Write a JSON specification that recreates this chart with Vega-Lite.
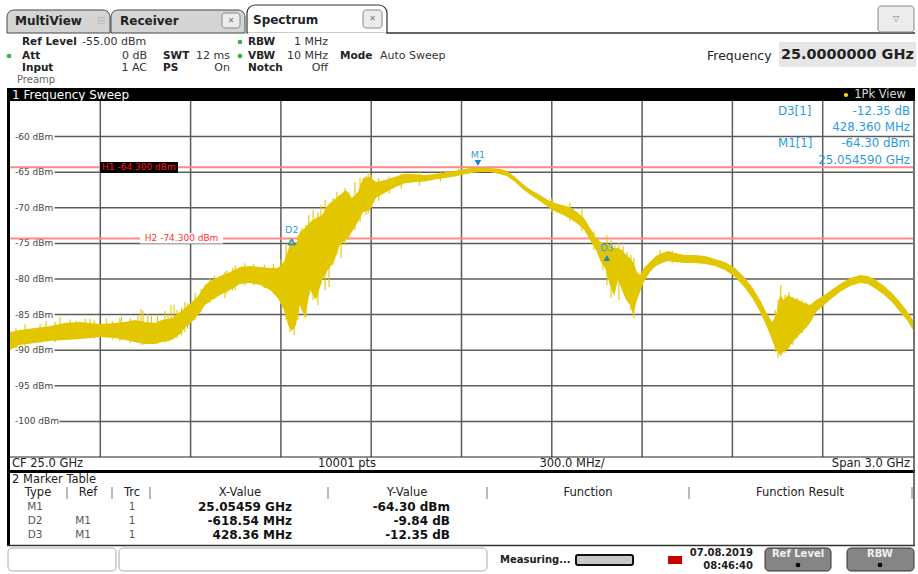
{
  "$schema": "https://vega.github.io/schema/vega-lite/v6.json",
  "width": 903,
  "height": 356,
  "autosize": {"type": "none"},
  "padding": {"left": 10, "top": 101, "right": 5, "bottom": 117},
  "background": "#ffffff",
  "config": {"view": {"stroke": null}, "font": "DejaVu Sans", "text": {"baseline": "middle"}},
  "resolve": {"scale": {"x": "independent", "y": "independent"}},
  "layer": [
    {
      "layer": [
        {
          "data": {"values": [{"f": 23.8}, {"f": 24.1}, {"f": 24.4}, {"f": 24.7}, {"f": 25.0}, {"f": 25.3}, {"f": 25.6}, {"f": 25.9}, {"f": 26.2}]},
          "mark": {"type": "rule", "color": "#5c5c5c", "strokeWidth": 1.5},
          "encoding": {
            "x": {"field": "f", "type": "quantitative", "scale": {"domain": [23.5, 26.5], "nice": false, "zero": false}, "axis": null}
          }
        },
        {
          "data": {"values": [{"db": -60}, {"db": -65}, {"db": -70}, {"db": -75}, {"db": -80}, {"db": -85}, {"db": -90}, {"db": -95}]},
          "mark": {"type": "rule", "color": "#5c5c5c", "strokeWidth": 1.5},
          "encoding": {
            "y": {"field": "db", "type": "quantitative", "scale": {"domain": [-105, -55], "nice": false, "zero": false}, "axis": null},
            "x": {"datum": 23.648, "type": "quantitative", "scale": {"domain": [23.5, 26.5], "nice": false, "zero": false}, "axis": null},
            "x2": {"datum": 26.5}
          }
        },
        {
          "data": {"values": [{"db": -100}]},
          "mark": {"type": "rule", "color": "#5c5c5c", "strokeWidth": 1.5},
          "encoding": {
            "y": {"field": "db", "type": "quantitative", "scale": {"domain": [-105, -55], "nice": false, "zero": false}, "axis": null},
            "x": {"datum": 23.664, "type": "quantitative", "scale": {"domain": [23.5, 26.5], "nice": false, "zero": false}, "axis": null},
            "x2": {"datum": 26.5}
          }
        },
        {
          "data": {"values": [{"db": -60, "lab": "-60 dBm"}, {"db": -65, "lab": "-65 dBm"}, {"db": -70, "lab": "-70 dBm"}, {"db": -75, "lab": "-75 dBm"}, {"db": -80, "lab": "-80 dBm"}, {"db": -85, "lab": "-85 dBm"}, {"db": -90, "lab": "-90 dBm"}, {"db": -95, "lab": "-95 dBm"}, {"db": -100, "lab": "-100 dBm"}]},
          "mark": {"type": "text", "align": "left", "baseline": "middle", "fontSize": 9, "color": "#444444"},
          "encoding": {
            "y": {"field": "db", "type": "quantitative", "scale": {"domain": [-105, -55], "nice": false, "zero": false}, "axis": null},
            "x": {"datum": 23.5166, "type": "quantitative", "scale": {"domain": [23.5, 26.5], "nice": false, "zero": false}, "axis": null},
            "text": {"field": "lab"}
          }
        },
        {
          "data": {"values": [{"db": -64.3}, {"db": -74.3}]},
          "mark": {"type": "rule", "color": "#ff8a8a", "strokeWidth": 2},
          "encoding": {
            "y": {"field": "db", "type": "quantitative", "scale": {"domain": [-105, -55], "nice": false, "zero": false}, "axis": null}
          }
        },
        {
          "data": {"values": [{}]},
          "mark": {"type": "rect", "color": "#000000"},
          "encoding": {
            "x": {"datum": 23.799, "type": "quantitative", "scale": {"domain": [23.5, 26.5], "nice": false, "zero": false}, "axis": null},
            "x2": {"datum": 24.058},
            "y": {"datum": -63.57, "type": "quantitative", "scale": {"domain": [-105, -55], "nice": false, "zero": false}, "axis": null},
            "y2": {"datum": -65.11}
          }
        },
        {
          "data": {"values": [{}]},
          "mark": {"type": "rect", "color": "#ffffff"},
          "encoding": {
            "x": {"datum": 23.932, "type": "quantitative", "scale": {"domain": [23.5, 26.5], "nice": false, "zero": false}, "axis": null},
            "x2": {"datum": 24.208},
            "y": {"datum": -73.54, "type": "quantitative", "scale": {"domain": [-105, -55], "nice": false, "zero": false}, "axis": null},
            "y2": {"datum": -75.0}
          }
        },
        {
          "data": {"values": [{"t": "H1 -64.300 dBm", "f": 23.806, "db": -64.3}]},
          "mark": {"type": "text", "align": "left", "baseline": "middle", "fontSize": 9, "color": "#ff1a1a"},
          "encoding": {
            "x": {"field": "f", "type": "quantitative", "scale": {"domain": [23.5, 26.5], "nice": false, "zero": false}, "axis": null},
            "y": {"field": "db", "type": "quantitative", "scale": {"domain": [-105, -55], "nice": false, "zero": false}, "axis": null},
            "text": {"field": "t"}
          }
        },
        {
          "data": {"values": [{"t": "H2 -74.300 dBm", "f": 24.07, "db": -74.3}]},
          "mark": {"type": "text", "align": "center", "baseline": "middle", "fontSize": 9, "color": "#ff3030"},
          "encoding": {
            "x": {"field": "f", "type": "quantitative", "scale": {"domain": [23.5, 26.5], "nice": false, "zero": false}, "axis": null},
            "y": {"field": "db", "type": "quantitative", "scale": {"domain": [-105, -55], "nice": false, "zero": false}, "axis": null},
            "text": {"field": "t"}
          }
        },
        {
          "data": {"values": [
            {"f": 23.500, "hi": -87.44, "lo": -89.97}, {"f": 23.533, "hi": -87.16, "lo": -89.27}, {"f": 23.583, "hi": -86.88, "lo": -88.99},
            {"f": 23.633, "hi": -86.60, "lo": -88.71}, {"f": 23.683, "hi": -86.18, "lo": -88.57}, {"f": 23.733, "hi": -86.04, "lo": -88.43},
            {"f": 23.799, "hi": -86.32, "lo": -88.15}, {"f": 23.849, "hi": -86.18, "lo": -88.29}, {"f": 23.882, "hi": -86.04, "lo": -88.57},
            {"f": 23.915, "hi": -85.76, "lo": -88.85}, {"f": 23.949, "hi": -86.04, "lo": -89.13}, {"f": 23.982, "hi": -86.18, "lo": -89.13},
            {"f": 24.005, "hi": -85.76, "lo": -88.85}, {"f": 24.038, "hi": -85.48, "lo": -88.57}, {"f": 24.065, "hi": -84.63, "lo": -87.72},
            {"f": 24.081, "hi": -84.07, "lo": -86.88}, {"f": 24.101, "hi": -83.37, "lo": -86.18}, {"f": 24.125, "hi": -82.39, "lo": -85.06},
            {"f": 24.148, "hi": -80.84, "lo": -83.65}, {"f": 24.171, "hi": -80.14, "lo": -82.95}, {"f": 24.198, "hi": -79.58, "lo": -82.25},
            {"f": 24.231, "hi": -79.02, "lo": -81.54}, {"f": 24.264, "hi": -78.31, "lo": -80.70}, {"f": 24.297, "hi": -78.17, "lo": -80.56},
            {"f": 24.331, "hi": -78.31, "lo": -80.84}, {"f": 24.364, "hi": -78.46, "lo": -81.54}, {"f": 24.390, "hi": -78.46, "lo": -82.67},
            {"f": 24.410, "hi": -77.61, "lo": -84.35}, {"f": 24.424, "hi": -75.93, "lo": -86.46}, {"f": 24.437, "hi": -74.52, "lo": -87.30},
            {"f": 24.450, "hi": -75.22, "lo": -86.46}, {"f": 24.463, "hi": -73.40, "lo": -83.65}, {"f": 24.480, "hi": -72.84, "lo": -85.48},
            {"f": 24.497, "hi": -71.99, "lo": -81.54}, {"f": 24.517, "hi": -71.43, "lo": -82.95}, {"f": 24.537, "hi": -71.01, "lo": -80.14},
            {"f": 24.556, "hi": -69.61, "lo": -78.74}, {"f": 24.576, "hi": -68.90, "lo": -77.61}, {"f": 24.596, "hi": -68.20, "lo": -75.22},
            {"f": 24.616, "hi": -67.50, "lo": -74.52}, {"f": 24.636, "hi": -68.62, "lo": -73.40}, {"f": 24.656, "hi": -67.78, "lo": -71.99},
            {"f": 24.673, "hi": -65.81, "lo": -70.59}, {"f": 24.696, "hi": -65.67, "lo": -70.31}, {"f": 24.716, "hi": -66.38, "lo": -68.60},
            {"f": 24.746, "hi": -66.10, "lo": -67.90}, {"f": 24.779, "hi": -65.63, "lo": -67.10}, {"f": 24.812, "hi": -65.21, "lo": -66.54},
            {"f": 24.846, "hi": -65.30, "lo": -66.36}, {"f": 24.879, "hi": -65.39, "lo": -66.32}, {"f": 24.912, "hi": -65.25, "lo": -66.04},
            {"f": 24.945, "hi": -65.00, "lo": -65.80}, {"f": 24.978, "hi": -64.83, "lo": -65.60}, {"f": 25.012, "hi": -64.55, "lo": -65.25},
            {"f": 25.035, "hi": -64.41, "lo": -65.11}, {"f": 25.061, "hi": -64.34, "lo": -64.97}, {"f": 25.095, "hi": -64.41, "lo": -64.97},
            {"f": 25.128, "hi": -64.55, "lo": -65.30}, {"f": 25.151, "hi": -64.83, "lo": -65.53}, {"f": 25.178, "hi": -65.67, "lo": -66.38},
            {"f": 25.204, "hi": -66.66, "lo": -67.40}, {"f": 25.231, "hi": -67.50, "lo": -68.24}, {"f": 25.261, "hi": -68.20, "lo": -69.09},
            {"f": 25.287, "hi": -68.90, "lo": -69.90}, {"f": 25.311, "hi": -69.33, "lo": -70.53}, {"f": 25.334, "hi": -69.61, "lo": -70.95},
            {"f": 25.360, "hi": -69.89, "lo": -71.51}, {"f": 25.384, "hi": -70.59, "lo": -72.22}, {"f": 25.407, "hi": -71.43, "lo": -73.06},
            {"f": 25.427, "hi": -72.84, "lo": -74.52}, {"f": 25.447, "hi": -74.24, "lo": -75.93}, {"f": 25.463, "hi": -74.80, "lo": -77.61},
            {"f": 25.477, "hi": -75.22, "lo": -78.46}, {"f": 25.493, "hi": -75.22, "lo": -80.84}, {"f": 25.507, "hi": -75.65, "lo": -82.39},
            {"f": 25.520, "hi": -75.65, "lo": -80.14}, {"f": 25.533, "hi": -75.93, "lo": -81.54}, {"f": 25.547, "hi": -76.63, "lo": -82.95},
            {"f": 25.560, "hi": -77.05, "lo": -83.65}, {"f": 25.570, "hi": -77.61, "lo": -85.06}, {"f": 25.583, "hi": -79.02, "lo": -82.95},
            {"f": 25.593, "hi": -79.44, "lo": -81.83}, {"f": 25.606, "hi": -78.46, "lo": -80.42}, {"f": 25.626, "hi": -77.61, "lo": -79.02},
            {"f": 25.646, "hi": -76.77, "lo": -78.17}, {"f": 25.666, "hi": -76.35, "lo": -77.75}, {"f": 25.686, "hi": -76.07, "lo": -77.47},
            {"f": 25.709, "hi": -76.35, "lo": -77.61}, {"f": 25.743, "hi": -76.63, "lo": -77.75}, {"f": 25.776, "hi": -76.63, "lo": -77.75},
            {"f": 25.809, "hi": -76.77, "lo": -77.89}, {"f": 25.842, "hi": -77.19, "lo": -78.17}, {"f": 25.875, "hi": -77.61, "lo": -78.74},
            {"f": 25.909, "hi": -78.46, "lo": -79.72}, {"f": 25.942, "hi": -79.86, "lo": -81.26}, {"f": 25.968, "hi": -81.26, "lo": -82.81},
            {"f": 25.992, "hi": -82.95, "lo": -84.63}, {"f": 26.012, "hi": -84.63, "lo": -86.46}, {"f": 26.032, "hi": -86.04, "lo": -88.57},
            {"f": 26.045, "hi": -85.06, "lo": -89.97}, {"f": 26.058, "hi": -82.25, "lo": -90.67}, {"f": 26.071, "hi": -82.95, "lo": -90.25},
            {"f": 26.085, "hi": -82.25, "lo": -89.69}, {"f": 26.101, "hi": -82.67, "lo": -88.85}, {"f": 26.118, "hi": -82.95, "lo": -88.01},
            {"f": 26.138, "hi": -83.37, "lo": -87.16}, {"f": 26.158, "hi": -83.65, "lo": -86.18}, {"f": 26.178, "hi": -82.95, "lo": -84.63},
            {"f": 26.201, "hi": -82.39, "lo": -83.79}, {"f": 26.224, "hi": -81.69, "lo": -82.95}, {"f": 26.257, "hi": -80.70, "lo": -81.83},
            {"f": 26.291, "hi": -79.86, "lo": -80.98}, {"f": 26.324, "hi": -79.44, "lo": -80.56}, {"f": 26.350, "hi": -79.58, "lo": -80.70},
            {"f": 26.377, "hi": -80.14, "lo": -81.40}, {"f": 26.404, "hi": -80.98, "lo": -82.25}, {"f": 26.430, "hi": -81.97, "lo": -83.23},
            {"f": 26.457, "hi": -83.23, "lo": -84.63}, {"f": 26.480, "hi": -84.49, "lo": -85.76}, {"f": 26.500, "hi": -85.76, "lo": -87.16}
          ]},
          "mark": {"type": "area", "color": "#e2c700", "opacity": 1},
          "encoding": {
            "x": {"field": "f", "type": "quantitative", "scale": {"domain": [23.5, 26.5], "nice": false, "zero": false}, "axis": null},
            "y": {"field": "hi", "type": "quantitative", "scale": {"domain": [-105, -55], "nice": false, "zero": false}, "axis": null},
            "y2": {"field": "lo"}
          }
        },
        {
          "data": {"values": [
            {"f": 23.52, "hi": -86.9, "lo": -89.8}, {"f": 23.55, "hi": -86.4, "lo": -89.4}, {"f": 23.60, "hi": -86.3, "lo": -89.0},
            {"f": 23.62, "hi": -85.9, "lo": -88.6}, {"f": 23.65, "hi": -86.0, "lo": -88.9}, {"f": 23.666, "hi": -85.34, "lo": -88.57},
            {"f": 23.70, "hi": -85.7, "lo": -88.5}, {"f": 23.72, "hi": -85.9, "lo": -88.3}, {"f": 23.75, "hi": -85.6, "lo": -88.2},
            {"f": 23.766, "hi": -85.62, "lo": -88.29}, {"f": 23.78, "hi": -85.8, "lo": -88.4}, {"f": 23.82, "hi": -85.5, "lo": -88.0},
            {"f": 23.84, "hi": -85.9, "lo": -88.5}, {"f": 23.865, "hi": -85.48, "lo": -88.71}, {"f": 23.87, "hi": -85.3, "lo": -88.6},
            {"f": 23.90, "hi": -85.5, "lo": -89.0}, {"f": 23.925, "hi": -85.06, "lo": -88.99}, {"f": 23.935, "hi": -84.2, "lo": -89.2},
            {"f": 23.942, "hi": -84.49, "lo": -89.27}, {"f": 23.958, "hi": -84.92, "lo": -88.71}, {"f": 23.97, "hi": -85.2, "lo": -89.0},
            {"f": 23.99, "hi": -85.0, "lo": -89.1}, {"f": 24.015, "hi": -84.49, "lo": -88.99}, {"f": 24.025, "hi": -84.8, "lo": -88.8},
            {"f": 24.035, "hi": -83.65, "lo": -88.57}, {"f": 24.045, "hi": -83.6, "lo": -88.3}, {"f": 24.055, "hi": -84.35, "lo": -88.29},
            {"f": 24.07, "hi": -84.0, "lo": -87.9}, {"f": 24.081, "hi": -83.23, "lo": -87.44}, {"f": 24.09, "hi": -83.4, "lo": -87.0},
            {"f": 24.115, "hi": -81.97, "lo": -85.76}, {"f": 24.135, "hi": -81.4, "lo": -84.7}, {"f": 24.164, "hi": -79.86, "lo": -83.37},
            {"f": 24.18, "hi": -79.5, "lo": -82.8}, {"f": 24.214, "hi": -79.02, "lo": -82.67}, {"f": 24.22, "hi": -78.8, "lo": -82.0},
            {"f": 24.24, "hi": -78.4, "lo": -81.6}, {"f": 24.248, "hi": -78.03, "lo": -81.54}, {"f": 24.28, "hi": -77.8, "lo": -80.9},
            {"f": 24.31, "hi": -77.9, "lo": -80.9}, {"f": 24.345, "hi": -78.0, "lo": -81.3}, {"f": 24.375, "hi": -77.9, "lo": -82.0},
            {"f": 24.40, "hi": -77.2, "lo": -83.5},
            {"f": 24.417, "hi": -75.22, "lo": -85.76}, {"f": 24.430, "hi": -74.24, "lo": -87.44}, {"f": 24.444, "hi": -74.80, "lo": -87.87},
            {"f": 24.457, "hi": -73.82, "lo": -85.76}, {"f": 24.470, "hi": -72.84, "lo": -84.35}, {"f": 24.483, "hi": -72.42, "lo": -85.48},
            {"f": 24.493, "hi": -71.01, "lo": -82.25}, {"f": 24.507, "hi": -70.31, "lo": -82.95}, {"f": 24.523, "hi": -70.59, "lo": -83.65},
            {"f": 24.533, "hi": -69.61, "lo": -80.84}, {"f": 24.547, "hi": -68.90, "lo": -81.54}, {"f": 24.560, "hi": -70.31, "lo": -81.12},
            {"f": 24.573, "hi": -68.62, "lo": -78.03}, {"f": 24.586, "hi": -67.78, "lo": -76.63}, {"f": 24.600, "hi": -68.20, "lo": -77.05},
            {"f": 24.613, "hi": -67.22, "lo": -75.22}, {"f": 24.626, "hi": -67.78, "lo": -74.52}, {"f": 24.646, "hi": -66.38, "lo": -73.12},
            {"f": 24.663, "hi": -65.81, "lo": -71.99}, {"f": 24.683, "hi": -65.53, "lo": -71.01},
            {"f": 24.69, "hi": -65.0, "lo": -70.8}, {"f": 24.70, "hi": -65.3, "lo": -70.0}, {"f": 24.725, "hi": -65.8, "lo": -69.0},
            {"f": 24.76, "hi": -65.6, "lo": -68.0}, {"f": 24.80, "hi": -65.0, "lo": -67.3}, {"f": 24.86, "hi": -65.0, "lo": -66.9},
            {"f": 24.93, "hi": -64.8, "lo": -66.3}, {"f": 24.99, "hi": -64.5, "lo": -65.6}, {"f": 25.02, "hi": -64.2, "lo": -65.3},
            {"f": 25.30, "hi": -68.6, "lo": -70.6}, {"f": 25.36, "hi": -69.3, "lo": -71.9}, {"f": 25.40, "hi": -70.2, "lo": -73.3},
            {"f": 25.44, "hi": -73.3, "lo": -75.9},
            {"f": 25.470, "hi": -74.80, "lo": -78.74}, {"f": 25.483, "hi": -73.82, "lo": -80.84}, {"f": 25.497, "hi": -74.52, "lo": -82.67},
            {"f": 25.510, "hi": -75.22, "lo": -81.54}, {"f": 25.523, "hi": -74.94, "lo": -82.95}, {"f": 25.537, "hi": -75.37, "lo": -81.83},
            {"f": 25.550, "hi": -76.21, "lo": -82.95}, {"f": 25.563, "hi": -76.63, "lo": -84.35}, {"f": 25.573, "hi": -77.05, "lo": -85.48},
            {"f": 25.66, "hi": -75.9, "lo": -77.9}, {"f": 25.70, "hi": -76.0, "lo": -77.8},
            {"f": 26.042, "hi": -84.35, "lo": -90.25}, {"f": 26.052, "hi": -82.95, "lo": -91.10}, {"f": 26.061, "hi": -80.84, "lo": -90.81},
            {"f": 26.075, "hi": -82.25, "lo": -90.39}, {"f": 26.088, "hi": -81.83, "lo": -89.97}, {"f": 26.101, "hi": -82.53, "lo": -89.27},
            {"f": 26.115, "hi": -82.67, "lo": -88.29}, {"f": 26.131, "hi": -82.95, "lo": -87.58}, {"f": 26.145, "hi": -83.23, "lo": -86.88}
          ]},
          "mark": {"type": "rule", "color": "#e2c700", "strokeWidth": 1.1},
          "encoding": {
            "x": {"field": "f", "type": "quantitative", "scale": {"domain": [23.5, 26.5], "nice": false, "zero": false}, "axis": null},
            "y": {"field": "hi", "type": "quantitative", "scale": {"domain": [-105, -55], "nice": false, "zero": false}, "axis": null},
            "y2": {"field": "lo"}
          }
        },
        {
          "data": {"values": [{"m": "M1", "f": 25.05459, "db": -63.71}]},
          "mark": {"type": "point", "shape": "triangle-down", "filled": true, "color": "#1a8ad4", "size": 45, "opacity": 1},
          "encoding": {
            "x": {"field": "f", "type": "quantitative", "scale": {"domain": [23.5, 26.5], "nice": false, "zero": false}, "axis": null},
            "y": {"field": "db", "type": "quantitative", "scale": {"domain": [-105, -55], "nice": false, "zero": false}, "axis": null}
          }
        },
        {
          "data": {"values": [{"m": "D3", "f": 25.48295, "db": -77.05}]},
          "mark": {"type": "point", "shape": "triangle-up", "filled": true, "color": "#1a8ad4", "size": 45, "opacity": 1},
          "encoding": {
            "x": {"field": "f", "type": "quantitative", "scale": {"domain": [23.5, 26.5], "nice": false, "zero": false}, "axis": null},
            "y": {"field": "db", "type": "quantitative", "scale": {"domain": [-105, -55], "nice": false, "zero": false}, "axis": null}
          }
        },
        {
          "data": {"values": [{"m": "D2", "f": 24.43605, "db": -74.8}]},
          "mark": {"type": "point", "shape": "triangle-up", "filled": false, "color": "#1a8ad4", "strokeWidth": 1.3, "size": 40, "opacity": 1},
          "encoding": {
            "x": {"field": "f", "type": "quantitative", "scale": {"domain": [23.5, 26.5], "nice": false, "zero": false}, "axis": null},
            "y": {"field": "db", "type": "quantitative", "scale": {"domain": [-105, -55], "nice": false, "zero": false}, "axis": null}
          }
        },
        {
          "data": {"values": [{"t": "M1", "f": 25.05459, "db": -62.58}, {"t": "D2", "f": 24.43605, "db": -73.12}, {"t": "D3", "f": 25.48295, "db": -75.65}]},
          "mark": {"type": "text", "align": "center", "baseline": "middle", "fontSize": 9.5, "color": "#3a9de0"},
          "encoding": {
            "x": {"field": "f", "type": "quantitative", "scale": {"domain": [23.5, 26.5], "nice": false, "zero": false}, "axis": null},
            "y": {"field": "db", "type": "quantitative", "scale": {"domain": [-105, -55], "nice": false, "zero": false}, "axis": null},
            "text": {"field": "t"}
          }
        },
        {
          "data": {"values": [{"t": "D3[1]", "f": 26.0515, "db": -56.4}, {"t": "M1[1]", "f": 26.0515, "db": -60.9}]},
          "mark": {"type": "text", "align": "left", "baseline": "middle", "fontSize": 11.8, "color": "#2b9be0"},
          "encoding": {
            "x": {"field": "f", "type": "quantitative", "scale": {"domain": [23.5, 26.5], "nice": false, "zero": false}, "axis": null},
            "y": {"field": "db", "type": "quantitative", "scale": {"domain": [-105, -55], "nice": false, "zero": false}, "axis": null},
            "text": {"field": "t"}
          }
        },
        {
          "data": {"values": [{"t": "-12.35 dB", "f": 26.49, "db": -56.4}, {"t": "428.360 MHz", "f": 26.49, "db": -58.65}, {"t": "-64.30 dBm", "f": 26.49, "db": -60.9}, {"t": "25.054590 GHz", "f": 26.49, "db": -63.29}]},
          "mark": {"type": "text", "align": "right", "baseline": "middle", "fontSize": 11.8, "color": "#2b9be0"},
          "encoding": {
            "x": {"field": "f", "type": "quantitative", "scale": {"domain": [23.5, 26.5], "nice": false, "zero": false}, "axis": null},
            "y": {"field": "db", "type": "quantitative", "scale": {"domain": [-105, -55], "nice": false, "zero": false}, "axis": null},
            "text": {"field": "t"}
          }
        }
      ]
    },
    {
      "encoding": {
        "x": {"field": "ux", "type": "quantitative", "scale": {"domain": [0, 918], "range": [-10, 908], "nice": false, "zero": false}, "axis": null},
        "y": {"field": "uy", "type": "quantitative", "scale": {"domain": [0, 574], "range": [-101, 473], "nice": false, "zero": false}, "axis": null}
      },
      "layer": [
        {
          "data": {"values": [{"ux": 7, "ux2": 110, "uy": 10, "uy2": 33}, {"ux": 111, "ux2": 245, "uy": 10, "uy2": 33}]},
          "mark": {"type": "rect", "fill": "#d4d4d4", "stroke": "#444444", "strokeWidth": 1, "cornerRadiusTopLeft": 7, "cornerRadiusTopRight": 7},
          "encoding": {"x2": {"field": "ux2"}, "y2": {"field": "uy2"}}
        },
        {
          "data": {"values": [{"ux": 247, "ux2": 387, "uy": 5, "uy2": 33}]},
          "mark": {"type": "rect", "fill": "#ffffff", "stroke": "#333333", "strokeWidth": 1.2, "cornerRadiusTopLeft": 8, "cornerRadiusTopRight": 8},
          "encoding": {"x2": {"field": "ux2"}, "y2": {"field": "uy2"}}
        },
        {
          "data": {"values": [{"ux": 248, "ux2": 386, "uy": 33.5}]},
          "mark": {"type": "rule", "color": "#ffffff", "strokeWidth": 2},
          "encoding": {"x2": {"field": "ux2"}}
        },
        {
          "data": {"values": [{"ux": 387, "ux2": 915, "uy": 33}]},
          "mark": {"type": "rule", "color": "#333333", "strokeWidth": 1.5},
          "encoding": {"x2": {"field": "ux2"}}
        },
        {
          "data": {"values": [{"ux": 222, "ux2": 240, "uy": 13, "uy2": 28}, {"ux": 363, "ux2": 382, "uy": 10, "uy2": 28}, {"ux": 878, "ux2": 914, "uy": 6, "uy2": 32}]},
          "mark": {"type": "rect", "fill": "#ececec", "stroke": "#888888", "strokeWidth": 1, "cornerRadius": 3},
          "encoding": {"x2": {"field": "ux2"}, "y2": {"field": "uy2"}}
        },
        {
          "data": {"values": [{"ux": 779, "ux2": 916, "uy": 42, "uy2": 67}]},
          "mark": {"type": "rect", "fill": "#e6e6e6"},
          "encoding": {"x2": {"field": "ux2"}, "y2": {"field": "uy2"}}
        },
        {
          "data": {"values": [{"ux": 7, "ux2": 915, "uy": 88, "uy2": 101}, {"ux": 7, "ux2": 915, "uy": 470, "uy2": 473}, {"ux": 7, "ux2": 10, "uy": 88, "uy2": 546}]},
          "mark": {"type": "rect", "fill": "#000000"},
          "encoding": {"x2": {"field": "ux2"}, "y2": {"field": "uy2"}}
        },
        {
          "data": {"values": [{"ux": 914, "uy": 101, "uy2": 546}]},
          "mark": {"type": "rule", "color": "#444444", "strokeWidth": 1.5},
          "encoding": {"y2": {"field": "uy2"}}
        },
        {
          "data": {"values": [{"ux": 10, "ux2": 914, "uy": 457}]},
          "mark": {"type": "rule", "color": "#222222", "strokeWidth": 1},
          "encoding": {"x2": {"field": "ux2"}}
        },
        {
          "data": {"values": [{"ux": 7, "ux2": 915, "uy": 545.5}]},
          "mark": {"type": "rule", "color": "#333333", "strokeWidth": 1.5},
          "encoding": {"x2": {"field": "ux2"}}
        },
        {
          "data": {"values": [{"ux": 67, "uy": 487, "uy2": 499}, {"ux": 112, "uy": 487, "uy2": 499}, {"ux": 150, "uy": 487, "uy2": 499}, {"ux": 328, "uy": 487, "uy2": 499}, {"ux": 487, "uy": 487, "uy2": 499}, {"ux": 689, "uy": 487, "uy2": 499}, {"ux": 912, "uy": 487, "uy2": 499}]},
          "mark": {"type": "rule", "color": "#777777", "strokeWidth": 1},
          "encoding": {"y2": {"field": "uy2"}}
        },
        {
          "data": {"values": [{"ux": 8, "ux2": 116, "uy": 548, "uy2": 571}, {"ux": 119, "ux2": 487, "uy": 548, "uy2": 571}]},
          "mark": {"type": "rect", "fill": "#ffffff", "stroke": "#aaaaaa", "strokeWidth": 1, "cornerRadius": 4},
          "encoding": {"x2": {"field": "ux2"}, "y2": {"field": "uy2"}}
        },
        {
          "data": {"values": [{"ux": 576, "ux2": 633, "uy": 555, "uy2": 565}]},
          "mark": {"type": "rect", "fill": "#c8c8c8", "stroke": "#111111", "strokeWidth": 2, "cornerRadius": 2},
          "encoding": {"x2": {"field": "ux2"}, "y2": {"field": "uy2"}}
        },
        {
          "data": {"values": [{"ux": 668, "ux2": 682, "uy": 556, "uy2": 564}]},
          "mark": {"type": "rect", "fill": "#cc0000"},
          "encoding": {"x2": {"field": "ux2"}, "y2": {"field": "uy2"}}
        },
        {
          "data": {"values": [{"ux": 765, "ux2": 831, "uy": 548, "uy2": 571}, {"ux": 847, "ux2": 914, "uy": 548, "uy2": 571}]},
          "mark": {"type": "rect", "fill": "#858585", "stroke": "#333333", "strokeWidth": 1, "cornerRadius": 4},
          "encoding": {"x2": {"field": "ux2"}, "y2": {"field": "uy2"}}
        },
        {
          "data": {"values": [{"t": "MultiView", "ux": 15, "uy": 21}, {"t": "Receiver", "ux": 120, "uy": 21}, {"t": "Spectrum", "ux": 253, "uy": 20}]},
          "mark": {"type": "text", "align": "left", "fontSize": 12, "fontWeight": "bold", "color": "#222222"},
          "encoding": {"text": {"field": "t"}}
        },
        {
          "data": {"values": [{"t": "⊞", "ux": 101, "uy": 21}]},
          "mark": {"type": "text", "align": "center", "fontSize": 10, "color": "#bbbbbb"},
          "encoding": {"text": {"field": "t"}}
        },
        {
          "data": {"values": [{"t": "✕", "ux": 231, "uy": 20.5}, {"t": "✕", "ux": 372.5, "uy": 19}, {"t": "▽", "ux": 896, "uy": 19}]},
          "mark": {"type": "text", "align": "center", "fontSize": 8, "color": "#777777"},
          "encoding": {"text": {"field": "t"}}
        },
        {
          "data": {"values": [{"t": "Ref Level", "ux": 22, "uy": 42}, {"t": "Att", "ux": 22, "uy": 56}, {"t": "Input", "ux": 22, "uy": 68}, {"t": "SWT", "ux": 163, "uy": 56}, {"t": "PS", "ux": 163, "uy": 68}, {"t": "RBW", "ux": 248, "uy": 42}, {"t": "VBW", "ux": 248, "uy": 56}, {"t": "Notch", "ux": 248, "uy": 68}, {"t": "Mode", "ux": 340, "uy": 56}]},
          "mark": {"type": "text", "align": "left", "fontSize": 10.5, "fontWeight": "bold", "color": "#222222"},
          "encoding": {"text": {"field": "t"}}
        },
        {
          "data": {"values": [{"t": "-55.00 dBm", "ux": 82, "uy": 42}, {"t": "Auto Sweep", "ux": 380, "uy": 56}]},
          "mark": {"type": "text", "align": "left", "fontSize": 11, "color": "#333333"},
          "encoding": {"text": {"field": "t"}}
        },
        {
          "data": {"values": [{"t": "0 dB", "ux": 147, "uy": 56}, {"t": "1 AC", "ux": 147, "uy": 68}, {"t": "12 ms", "ux": 230, "uy": 56}, {"t": "On", "ux": 230, "uy": 68}, {"t": "1 MHz", "ux": 328, "uy": 42}, {"t": "10 MHz", "ux": 328, "uy": 56}, {"t": "Off", "ux": 328, "uy": 68}]},
          "mark": {"type": "text", "align": "right", "fontSize": 11, "color": "#333333"},
          "encoding": {"text": {"field": "t"}}
        },
        {
          "data": {"values": [{"t": "Preamp", "ux": 17, "uy": 80}]},
          "mark": {"type": "text", "align": "left", "fontSize": 10, "color": "#666666"},
          "encoding": {"text": {"field": "t"}}
        },
        {
          "data": {"values": [{"ux": 9, "uy": 56}, {"ux": 240, "uy": 42}, {"ux": 240, "uy": 56}]},
          "mark": {"type": "point", "shape": "circle", "filled": true, "color": "#3cb043", "size": 22, "opacity": 1}
        },
        {
          "data": {"values": [{"t": "Frequency", "ux": 707, "uy": 56}]},
          "mark": {"type": "text", "align": "left", "fontSize": 12.5, "color": "#222222"},
          "encoding": {"text": {"field": "t"}}
        },
        {
          "data": {"values": [{"t": "25.0000000 GHz", "ux": 781, "uy": 55}]},
          "mark": {"type": "text", "align": "left", "fontSize": 14.4, "fontWeight": "bold", "color": "#222222"},
          "encoding": {"text": {"field": "t"}}
        },
        {
          "data": {"values": [{"t": "1 Frequency Sweep", "ux": 12, "uy": 95}]},
          "mark": {"type": "text", "align": "left", "fontSize": 12, "color": "#ffffff"},
          "encoding": {"text": {"field": "t"}}
        },
        {
          "data": {"values": [{"t": "1Pk View", "ux": 906, "uy": 95}]},
          "mark": {"type": "text", "align": "right", "fontSize": 11.5, "color": "#d8d8d8"},
          "encoding": {"text": {"field": "t"}}
        },
        {
          "data": {"values": [{"ux": 846, "uy": 95}]},
          "mark": {"type": "point", "shape": "circle", "filled": true, "color": "#ffd800", "size": 18, "opacity": 1}
        },
        {
          "data": {"values": [{"t": "CF 25.0 GHz", "ux": 12, "uy": 464}]},
          "mark": {"type": "text", "align": "left", "fontSize": 11.5, "color": "#222222"},
          "encoding": {"text": {"field": "t"}}
        },
        {
          "data": {"values": [{"t": "10001 pts", "ux": 347, "uy": 464}, {"t": "300.0 MHz/", "ux": 572, "uy": 464}]},
          "mark": {"type": "text", "align": "center", "fontSize": 11.5, "color": "#222222"},
          "encoding": {"text": {"field": "t"}}
        },
        {
          "data": {"values": [{"t": "Span 3.0 GHz", "ux": 910, "uy": 464}]},
          "mark": {"type": "text", "align": "right", "fontSize": 11.5, "color": "#222222"},
          "encoding": {"text": {"field": "t"}}
        },
        {
          "data": {"values": [{"t": "2 Marker Table", "ux": 12, "uy": 480}]},
          "mark": {"type": "text", "align": "left", "fontSize": 11.5, "color": "#222222"},
          "encoding": {"text": {"field": "t"}}
        },
        {
          "data": {"values": [{"t": "Type", "ux": 38, "uy": 493}, {"t": "Ref", "ux": 88, "uy": 493}, {"t": "Trc", "ux": 132, "uy": 493}, {"t": "X-Value", "ux": 240, "uy": 493}, {"t": "Y-Value", "ux": 407, "uy": 493}, {"t": "Function", "ux": 588, "uy": 493}, {"t": "Function Result", "ux": 800, "uy": 493}]},
          "mark": {"type": "text", "align": "center", "fontSize": 11.5, "color": "#222222"},
          "encoding": {"text": {"field": "t"}}
        },
        {
          "data": {"values": [{"t": "M1", "ux": 35, "uy": 507}, {"t": "D2", "ux": 35, "uy": 521}, {"t": "D3", "ux": 35, "uy": 535}, {"t": "M1", "ux": 83, "uy": 521}, {"t": "M1", "ux": 83, "uy": 535}, {"t": "1", "ux": 132, "uy": 507}, {"t": "1", "ux": 132, "uy": 521}, {"t": "1", "ux": 132, "uy": 535}]},
          "mark": {"type": "text", "align": "center", "fontSize": 10.5, "color": "#555555"},
          "encoding": {"text": {"field": "t"}}
        },
        {
          "data": {"values": [{"t": "25.05459 GHz", "ux": 292, "uy": 507}, {"t": "-618.54 MHz", "ux": 292, "uy": 521}, {"t": "428.36 MHz", "ux": 292, "uy": 535}, {"t": "-64.30 dBm", "ux": 450, "uy": 507}, {"t": "-9.84 dB", "ux": 450, "uy": 521}, {"t": "-12.35 dB", "ux": 450, "uy": 535}]},
          "mark": {"type": "text", "align": "right", "fontSize": 12, "fontWeight": "bold", "color": "#111111"},
          "encoding": {"text": {"field": "t"}}
        },
        {
          "data": {"values": [{"t": "Measuring...", "ux": 500, "uy": 560}]},
          "mark": {"type": "text", "align": "left", "fontSize": 10, "fontWeight": "bold", "color": "#222222"},
          "encoding": {"text": {"field": "t"}}
        },
        {
          "data": {"values": [{"t": "07.08.2019", "ux": 753, "uy": 553}, {"t": "08:46:40", "ux": 753, "uy": 566}]},
          "mark": {"type": "text", "align": "right", "fontSize": 10, "fontWeight": "bold", "color": "#222222"},
          "encoding": {"text": {"field": "t"}}
        },
        {
          "data": {"values": [{"t": "Ref Level", "ux": 798, "uy": 554}, {"t": "RBW", "ux": 880, "uy": 554}]},
          "mark": {"type": "text", "align": "center", "fontSize": 10, "fontWeight": "bold", "color": "#f0f0f0"},
          "encoding": {"text": {"field": "t"}}
        },
        {
          "data": {"values": [{"ux": 798, "uy": 565}, {"ux": 880, "uy": 565}]},
          "mark": {"type": "point", "shape": "circle", "filled": true, "color": "#000000", "size": 22, "opacity": 1}
        }
      ]
    }
  ]
}
